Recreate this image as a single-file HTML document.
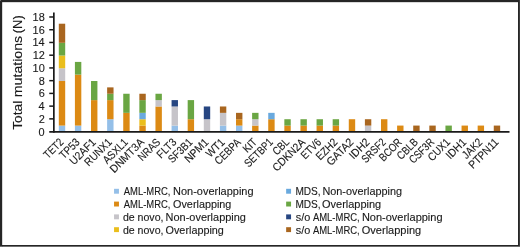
<!DOCTYPE html>
<html><head><meta charset="utf-8"><title>Total mutations (N) by gene</title>
<style>html,body{margin:0;padding:0;background:#fff;}body{width:520px;height:247px;overflow:hidden;}svg{display:block;}text{font-family:"Liberation Sans",sans-serif;fill:#1a1a1a;stroke:#1a1a1a;stroke-width:0.12px;stroke-linejoin:round;}</style></head><body>
<svg width="520" height="247" viewBox="0 0 520 247">
<rect x="0" y="0" width="520" height="247" fill="#fff"/>
<rect x="58.80" y="125.58" width="6.40" height="6.37" fill="#94BFE8"/>
<rect x="58.80" y="81.01" width="6.40" height="44.57" fill="#DC8A14"/>
<rect x="58.80" y="68.28" width="6.40" height="12.73" fill="#C6C4C9"/>
<rect x="58.80" y="55.55" width="6.40" height="12.73" fill="#EABE1C"/>
<rect x="58.80" y="42.81" width="6.40" height="12.73" fill="#6AA643"/>
<rect x="58.80" y="23.71" width="6.40" height="19.10" fill="#A9661F"/>
<rect x="74.91" y="125.58" width="6.40" height="6.37" fill="#94BFE8"/>
<rect x="74.91" y="74.65" width="6.40" height="50.94" fill="#DC8A14"/>
<rect x="74.91" y="61.91" width="6.40" height="12.73" fill="#6AA643"/>
<rect x="91.02" y="100.11" width="6.40" height="31.84" fill="#DC8A14"/>
<rect x="91.02" y="81.01" width="6.40" height="19.10" fill="#6AA643"/>
<rect x="107.13" y="119.22" width="6.40" height="12.73" fill="#94BFE8"/>
<rect x="107.13" y="100.11" width="6.40" height="19.10" fill="#DC8A14"/>
<rect x="107.13" y="93.75" width="6.40" height="6.37" fill="#6AA643"/>
<rect x="107.13" y="87.38" width="6.40" height="6.37" fill="#A9661F"/>
<rect x="123.24" y="112.85" width="6.40" height="19.10" fill="#DC8A14"/>
<rect x="123.24" y="93.75" width="6.40" height="19.10" fill="#6AA643"/>
<rect x="139.35" y="125.58" width="6.40" height="6.37" fill="#DC8A14"/>
<rect x="139.35" y="119.22" width="6.40" height="6.37" fill="#EABE1C"/>
<rect x="139.35" y="112.85" width="6.40" height="6.37" fill="#69A9DE"/>
<rect x="139.35" y="100.11" width="6.40" height="12.73" fill="#6AA643"/>
<rect x="139.35" y="93.75" width="6.40" height="6.37" fill="#A9661F"/>
<rect x="155.46" y="106.48" width="6.40" height="25.47" fill="#DC8A14"/>
<rect x="155.46" y="100.11" width="6.40" height="6.37" fill="#C6C4C9"/>
<rect x="155.46" y="93.75" width="6.40" height="6.37" fill="#6AA643"/>
<rect x="171.57" y="125.58" width="6.40" height="6.37" fill="#94BFE8"/>
<rect x="171.57" y="106.48" width="6.40" height="19.10" fill="#C6C4C9"/>
<rect x="171.57" y="100.11" width="6.40" height="6.37" fill="#274681"/>
<rect x="187.68" y="119.22" width="6.40" height="12.73" fill="#DC8A14"/>
<rect x="187.68" y="100.11" width="6.40" height="19.10" fill="#6AA643"/>
<rect x="203.79" y="119.22" width="6.40" height="12.73" fill="#C6C4C9"/>
<rect x="203.79" y="106.48" width="6.40" height="12.73" fill="#274681"/>
<rect x="219.90" y="125.58" width="6.40" height="6.37" fill="#94BFE8"/>
<rect x="219.90" y="112.85" width="6.40" height="12.73" fill="#C6C4C9"/>
<rect x="219.90" y="106.48" width="6.40" height="6.37" fill="#A9661F"/>
<rect x="236.01" y="125.58" width="6.40" height="6.37" fill="#94BFE8"/>
<rect x="236.01" y="119.22" width="6.40" height="6.37" fill="#DC8A14"/>
<rect x="236.01" y="112.85" width="6.40" height="6.37" fill="#A9661F"/>
<rect x="252.12" y="125.58" width="6.40" height="6.37" fill="#DC8A14"/>
<rect x="252.12" y="119.22" width="6.40" height="6.37" fill="#C6C4C9"/>
<rect x="252.12" y="112.85" width="6.40" height="6.37" fill="#6AA643"/>
<rect x="268.23" y="119.22" width="6.40" height="12.73" fill="#DC8A14"/>
<rect x="268.23" y="112.85" width="6.40" height="6.37" fill="#69A9DE"/>
<rect x="284.34" y="125.58" width="6.40" height="6.37" fill="#DC8A14"/>
<rect x="284.34" y="119.22" width="6.40" height="6.37" fill="#6AA643"/>
<rect x="300.45" y="125.58" width="6.40" height="6.37" fill="#DC8A14"/>
<rect x="300.45" y="119.22" width="6.40" height="6.37" fill="#6AA643"/>
<rect x="316.56" y="125.58" width="6.40" height="6.37" fill="#DC8A14"/>
<rect x="316.56" y="119.22" width="6.40" height="6.37" fill="#6AA643"/>
<rect x="332.67" y="125.58" width="6.40" height="6.37" fill="#DC8A14"/>
<rect x="332.67" y="119.22" width="6.40" height="6.37" fill="#6AA643"/>
<rect x="348.78" y="119.22" width="6.40" height="12.73" fill="#DC8A14"/>
<rect x="364.89" y="125.58" width="6.40" height="6.37" fill="#C6C4C9"/>
<rect x="364.89" y="119.22" width="6.40" height="6.37" fill="#A9661F"/>
<rect x="381.00" y="119.22" width="6.40" height="12.73" fill="#DC8A14"/>
<rect x="397.11" y="125.58" width="6.40" height="6.37" fill="#DC8A14"/>
<rect x="413.22" y="125.58" width="6.40" height="6.37" fill="#A9661F"/>
<rect x="429.33" y="125.58" width="6.40" height="6.37" fill="#A9661F"/>
<rect x="445.44" y="125.58" width="6.40" height="6.37" fill="#6AA643"/>
<rect x="461.55" y="125.58" width="6.40" height="6.37" fill="#DC8A14"/>
<rect x="477.66" y="125.58" width="6.40" height="6.37" fill="#DC8A14"/>
<rect x="493.77" y="125.58" width="6.40" height="6.37" fill="#A9661F"/>
<g stroke="#1a1a1a" fill="none">
<path stroke-width="1.70" d="M53.85 12.40 V132.70"/>
<path stroke-width="1.80" d="M49.25 131.80 H509.50"/>
<path stroke-width="1.50" d="M49.25 118.87 H53.85"/>
<path stroke-width="1.50" d="M49.25 106.13 H53.85"/>
<path stroke-width="1.50" d="M49.25 93.40 H53.85"/>
<path stroke-width="1.50" d="M49.25 80.66 H53.85"/>
<path stroke-width="1.50" d="M49.25 67.93 H53.85"/>
<path stroke-width="1.50" d="M49.25 55.20 H53.85"/>
<path stroke-width="1.50" d="M49.25 42.46 H53.85"/>
<path stroke-width="1.50" d="M49.25 29.73 H53.85"/>
<path stroke-width="1.50" d="M49.25 16.99 H53.85"/>
</g>
<text transform="translate(38.61 135.60) scale(0.9600 1)" font-size="11.40">0</text>
<text transform="translate(38.72 122.87) scale(0.9600 1)" font-size="11.40">2</text>
<text transform="translate(38.50 110.13) scale(0.9600 1)" font-size="11.40">4</text>
<text transform="translate(38.72 97.40) scale(0.9600 1)" font-size="11.40">6</text>
<text transform="translate(38.72 84.66) scale(0.9600 1)" font-size="11.40">8</text>
<text transform="translate(32.59 71.93) scale(0.9600 1)" font-size="11.40">10</text>
<text transform="translate(32.70 59.20) scale(0.9600 1)" font-size="11.40">12</text>
<text transform="translate(32.48 46.46) scale(0.9600 1)" font-size="11.40">14</text>
<text transform="translate(32.59 33.73) scale(0.9600 1)" font-size="11.40">16</text>
<text transform="translate(32.59 20.99) scale(0.9600 1)" font-size="11.40">18</text>
<text transform="translate(21.70 0) rotate(-90)" y="0" font-size="13.40"><tspan x="-129.88" textLength="29.14" lengthAdjust="spacingAndGlyphs">Total</tspan> <tspan x="-97.19" textLength="61.39" lengthAdjust="spacingAndGlyphs">mutations</tspan> <tspan x="-33.17" textLength="17.82" lengthAdjust="spacingAndGlyphs">(N)</tspan></text>
<text transform="translate(64.30 142.90) rotate(-45) scale(0.8395 1)" font-size="11.20" text-anchor="end">TET2</text>
<text transform="translate(80.41 142.90) rotate(-45) scale(0.8828 1)" font-size="11.20" text-anchor="end">TP53</text>
<text transform="translate(96.52 142.90) rotate(-45) scale(0.9145 1)" font-size="11.20" text-anchor="end">U2AF1</text>
<text transform="translate(112.63 142.90) rotate(-45) scale(0.8866 1)" font-size="11.20" text-anchor="end">RUNX1</text>
<text transform="translate(128.74 142.90) rotate(-45) scale(0.8776 1)" font-size="11.20" text-anchor="end">ASXL1</text>
<text transform="translate(144.85 142.90) rotate(-45) scale(0.9365 1)" font-size="11.20" text-anchor="end">DNMT3A</text>
<text transform="translate(160.96 142.90) rotate(-45) scale(0.8503 1)" font-size="11.20" text-anchor="end">NRAS</text>
<text transform="translate(177.07 142.90) rotate(-45) scale(0.8946 1)" font-size="11.20" text-anchor="end">FLT3</text>
<text transform="translate(193.18 142.90) rotate(-45) scale(0.8558 1)" font-size="11.20" text-anchor="end">SF3B1</text>
<text transform="translate(209.29 142.90) rotate(-45) scale(0.9265 1)" font-size="11.20" text-anchor="end">NPM1</text>
<text transform="translate(225.40 142.90) rotate(-45) scale(0.9028 1)" font-size="11.20" text-anchor="end">WT1</text>
<text transform="translate(241.51 142.90) rotate(-45) scale(0.8540 1)" font-size="11.20" text-anchor="end">CEBPA</text>
<text transform="translate(257.62 142.90) rotate(-45) scale(0.8435 1)" font-size="11.20" text-anchor="end">KIT</text>
<text transform="translate(273.73 142.90) rotate(-45) scale(0.8217 1)" font-size="11.20" text-anchor="end">SETBP1</text>
<text transform="translate(289.84 142.90) rotate(-45) scale(0.8414 1)" font-size="11.20" text-anchor="end">CBL</text>
<text transform="translate(305.95 142.90) rotate(-45) scale(0.9038 1)" font-size="11.20" text-anchor="end">CDKN2A</text>
<text transform="translate(322.06 142.90) rotate(-45) scale(0.8457 1)" font-size="11.20" text-anchor="end">ETV6</text>
<text transform="translate(338.17 142.90) rotate(-45) scale(0.8877 1)" font-size="11.20" text-anchor="end">EZH2</text>
<text transform="translate(354.28 142.90) rotate(-45) scale(0.9446 1)" font-size="11.20" text-anchor="end">GATA2</text>
<text transform="translate(370.39 142.90) rotate(-45) scale(0.9329 1)" font-size="11.20" text-anchor="end">IDH2</text>
<text transform="translate(386.50 142.90) rotate(-45) scale(0.8040 1)" font-size="11.20" text-anchor="end">SRSF2</text>
<text transform="translate(402.61 142.90) rotate(-45) scale(0.8348 1)" font-size="11.20" text-anchor="end">BCOR</text>
<text transform="translate(418.72 142.90) rotate(-45) scale(0.8396 1)" font-size="11.20" text-anchor="end">CBLB</text>
<text transform="translate(434.83 142.90) rotate(-45) scale(0.8177 1)" font-size="11.20" text-anchor="end">CSF3R</text>
<text transform="translate(450.94 142.90) rotate(-45) scale(0.8896 1)" font-size="11.20" text-anchor="end">CUX1</text>
<text transform="translate(467.05 142.90) rotate(-45) scale(0.9329 1)" font-size="11.20" text-anchor="end">IDH1</text>
<text transform="translate(483.16 142.90) rotate(-45) scale(0.8751 1)" font-size="11.20" text-anchor="end">JAK2</text>
<text transform="translate(499.27 142.90) rotate(-45) scale(0.8993 1)" font-size="11.20" text-anchor="end">PTPN11</text>
<rect x="114.05" y="188.80" width="4.90" height="4.90" fill="#94BFE8"/>
<text y="195.15" font-size="10.60"><tspan x="123.80" textLength="46.70" lengthAdjust="spacingAndGlyphs">AML-MRC,</tspan> <tspan x="173.12" textLength="80.42" lengthAdjust="spacingAndGlyphs">Non-overlapping</tspan></text>
<rect x="114.05" y="201.60" width="4.90" height="4.90" fill="#DC8A14"/>
<text y="207.95" font-size="10.60"><tspan x="123.80" textLength="46.70" lengthAdjust="spacingAndGlyphs">AML-MRC,</tspan> <tspan x="173.06" textLength="58.31" lengthAdjust="spacingAndGlyphs">Overlapping</tspan></text>
<rect x="114.05" y="214.40" width="4.90" height="4.90" fill="#C6C4C9"/>
<text y="220.75" font-size="10.60"><tspan x="122.88" textLength="40.64" lengthAdjust="spacingAndGlyphs">de novo,</tspan> <tspan x="165.62" textLength="80.32" lengthAdjust="spacingAndGlyphs">Non-overlapping</tspan></text>
<rect x="114.05" y="227.20" width="4.90" height="4.90" fill="#EABE1C"/>
<text y="233.55" font-size="10.60"><tspan x="122.88" textLength="40.64" lengthAdjust="spacingAndGlyphs">de novo,</tspan> <tspan x="165.56" textLength="58.31" lengthAdjust="spacingAndGlyphs">Overlapping</tspan></text>
<rect x="286.15" y="188.80" width="4.90" height="4.90" fill="#69A9DE"/>
<text y="195.15" font-size="10.60"><tspan x="295.39" textLength="25.21" lengthAdjust="spacingAndGlyphs">MDS,</tspan> <tspan x="322.43" textLength="79.71" lengthAdjust="spacingAndGlyphs">Non-overlapping</tspan></text>
<rect x="286.15" y="201.60" width="4.90" height="4.90" fill="#6AA643"/>
<text y="207.95" font-size="10.60"><tspan x="295.39" textLength="25.21" lengthAdjust="spacingAndGlyphs">MDS,</tspan> <tspan x="322.05" textLength="59.13" lengthAdjust="spacingAndGlyphs">Overlapping</tspan></text>
<rect x="286.15" y="214.40" width="4.90" height="4.90" fill="#274681"/>
<text y="220.75" font-size="10.60"><tspan x="295.87" textLength="14.51" lengthAdjust="spacingAndGlyphs">s/o</tspan> <tspan x="312.90" textLength="46.80" lengthAdjust="spacingAndGlyphs">AML-MRC,</tspan> <tspan x="361.92" textLength="80.63" lengthAdjust="spacingAndGlyphs">Non-overlapping</tspan></text>
<rect x="286.15" y="227.20" width="4.90" height="4.90" fill="#A9661F"/>
<text y="233.55" font-size="10.60"><tspan x="295.87" textLength="14.51" lengthAdjust="spacingAndGlyphs">s/o</tspan> <tspan x="312.90" textLength="46.80" lengthAdjust="spacingAndGlyphs">AML-MRC,</tspan> <tspan x="361.75" textLength="59.44" lengthAdjust="spacingAndGlyphs">Overlapping</tspan></text>
<g shape-rendering="crispEdges">
<rect x="0" y="0" width="520" height="2.00" fill="#262626"/>
<rect x="0" y="0" width="2.00" height="247" fill="#262626"/>
<rect x="0" y="245" width="520" height="1" fill="#262626"/>
<rect x="0" y="246" width="520" height="1" fill="#6e6e6e"/>
<rect x="518" y="0" width="1" height="246" fill="#262626"/>
<rect x="519" y="0" width="1" height="246" fill="#3c3c3c"/>
<rect x="0" y="0" width="1" height="1" fill="#6e6e6e"/>
</g>
<rect x="0" y="2.00" width="520" height="0.5" fill="#262626" opacity="0.35"/>
<rect x="2.00" y="0" width="0.5" height="247" fill="#262626" opacity="0.35"/>
</svg></body></html>
